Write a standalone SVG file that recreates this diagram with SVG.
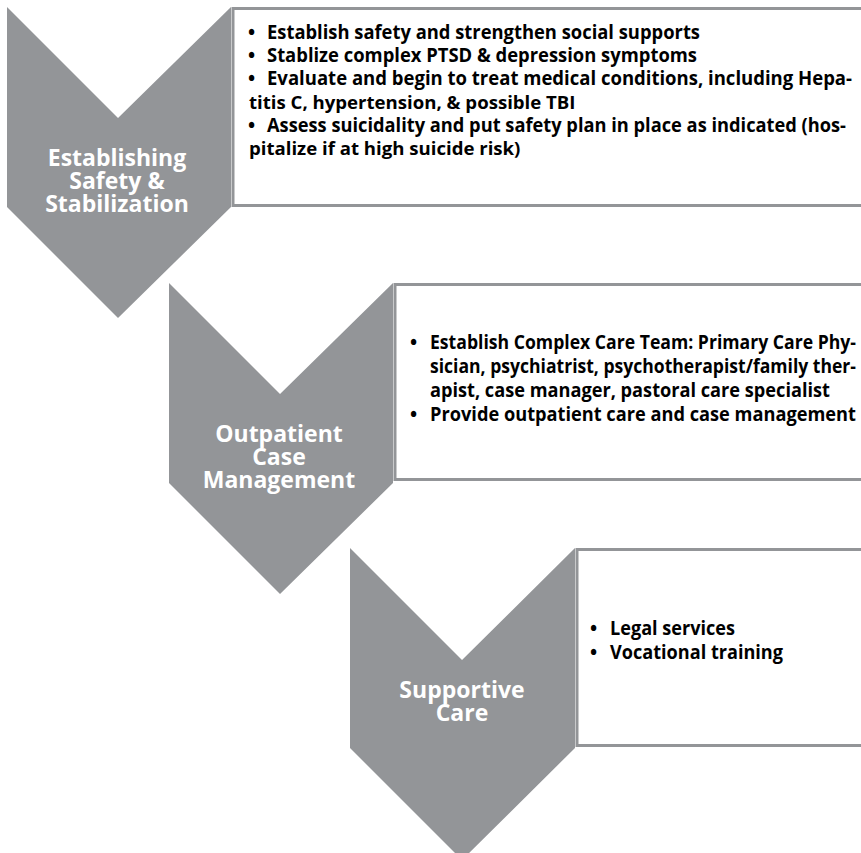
<svg xmlns="http://www.w3.org/2000/svg" width="861" height="853" viewBox="0 0 861 853">
  <style>
    .chev { fill: #939598; }
    .box { fill: #ffffff; stroke: #939598; stroke-width: 3; }
    .label { font-family: "Open Sans", "Liberation Sans", sans-serif; font-weight: bold; font-size: 23px; fill: #ffffff; text-anchor: middle; }
    .item { font-family: "Open Sans", "Liberation Sans", sans-serif; font-weight: bold; font-size: 19px; fill: #000000; }
    .cont { font-family: "Open Sans", "Liberation Sans", sans-serif; font-weight: bold; font-size: 18.6px; fill: #000000; }
    .bul { font-family: "Open Sans", "Liberation Sans", sans-serif; font-weight: bold; font-size: 19px; fill: #000000; }
  </style>
  <rect width="861" height="853" fill="#ffffff"/>

  <g id="phase1">
    <polygon class="chev" points="7,7 118,118 231,7 231,207 118,318 7,207"/>
    <text class="label" x="117" y="166">Establishing</text>
    <text class="label" x="117" y="189">Safety &amp;</text>
    <text class="label" x="117" y="212">Stabilization</text>
  </g>
  <g id="details1">
    <rect class="box" x="233" y="8.5" width="640" height="197"/>
    <text class="bul" x="248" y="39">•</text>
    <text class="item" x="267" y="39" textLength="433" lengthAdjust="spacingAndGlyphs">Establish safety and strengthen social supports</text>
    <text class="bul" x="248" y="62">•</text>
    <text class="item" x="267" y="62" textLength="430" lengthAdjust="spacingAndGlyphs">Stablize complex PTSD &amp; depression symptoms</text>
    <text class="bul" x="248" y="85">•</text>
    <text class="item" x="267" y="85" textLength="585" lengthAdjust="spacingAndGlyphs">Evaluate and begin to treat medical conditions, including Hepa-</text>
    <text class="cont" x="249" y="109">titis C, hypertension, &amp; possible TBI</text>
    <text class="bul" x="248" y="132">•</text>
    <text class="item" x="267" y="132" textLength="579" lengthAdjust="spacingAndGlyphs">Assess suicidality and put safety plan in place as indicated (hos-</text>
    <text class="cont" x="249" y="155">pitalize if at high suicide risk)</text>
  </g>

  <g id="phase2">
    <polygon class="chev" points="169,283 280,394 393,283 393,483 280,594 169,483"/>
    <text class="label" x="279" y="442">Outpatient</text>
    <text class="label" x="279" y="465">Case</text>
    <text class="label" x="279" y="488">Management</text>
  </g>
  <g id="details2">
    <rect class="box" x="395" y="284.5" width="480" height="195"/>
    <text class="bul" x="410" y="349">•</text>
    <text class="item" x="430" y="349" textLength="426" lengthAdjust="spacingAndGlyphs">Establish Complex Care Team: Primary Care Phy-</text>
    <text class="item" x="430" y="373" textLength="426" lengthAdjust="spacingAndGlyphs">sician, psychiatrist, psychotherapist/family ther-</text>
    <text class="item" x="430" y="397" textLength="400" lengthAdjust="spacingAndGlyphs">apist, case manager, pastoral care specialist</text>
    <text class="bul" x="410" y="421">•</text>
    <text class="item" x="430" y="421" textLength="426" lengthAdjust="spacingAndGlyphs">Provide outpatient care and case management</text>
  </g>

  <g id="phase3">
    <polygon class="chev" points="350,548 462,660 575,548 575,748 462,860 350,748"/>
    <text class="label" x="462" y="698">Supportive</text>
    <text class="label" x="462" y="721">Care</text>
  </g>
  <g id="details3">
    <rect class="box" x="577" y="549.5" width="300" height="196"/>
    <text class="bul" x="590" y="635">•</text>
    <text class="item" x="610" y="635" textLength="125" lengthAdjust="spacingAndGlyphs">Legal services</text>
    <text class="bul" x="590" y="659">•</text>
    <text class="item" x="610" y="659" textLength="173" lengthAdjust="spacingAndGlyphs">Vocational training</text>
  </g>

  <g id="connectors"></g>
</svg>
